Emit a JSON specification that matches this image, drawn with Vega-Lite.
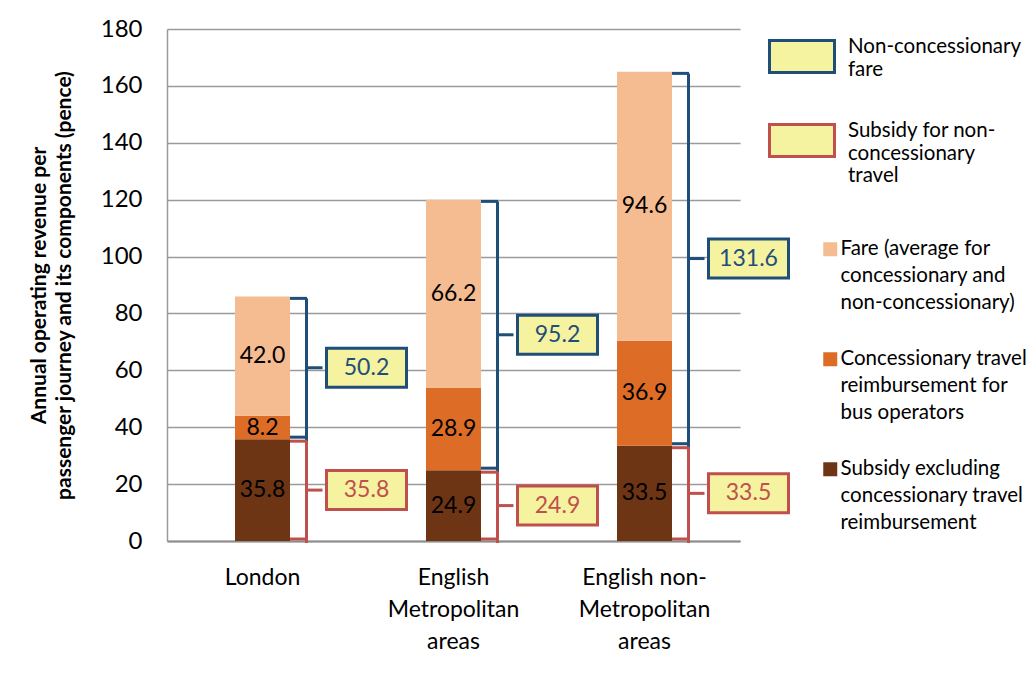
{
  "$schema": "https://vega.github.io/schema/vega-lite/v6.json",
  "width": 573,
  "height": 512,
  "autosize": {"type": "none"},
  "padding": {"left": 167, "top": 29, "right": 291, "bottom": 132},
  "background": "white",
  "config": {
    "font": "Lato",
    "view": {"stroke": null},
    "text": {"font": "Lato"}
  },
  "datasets": {
    "components": [
      {"area": "London", "component": "Subsidy excluding concessionary travel reimbursement", "tier": 1, "pence": 35.8},
      {"area": "London", "component": "Concessionary travel reimbursement for bus operators", "tier": 2, "pence": 8.2},
      {"area": "London", "component": "Fare (average for concessionary and non-concessionary)", "tier": 3, "pence": 42.0},
      {"area": "English Metropolitan areas", "component": "Subsidy excluding concessionary travel reimbursement", "tier": 1, "pence": 24.9},
      {"area": "English Metropolitan areas", "component": "Concessionary travel reimbursement for bus operators", "tier": 2, "pence": 28.9},
      {"area": "English Metropolitan areas", "component": "Fare (average for concessionary and non-concessionary)", "tier": 3, "pence": 66.2},
      {"area": "English non-Metropolitan areas", "component": "Subsidy excluding concessionary travel reimbursement", "tier": 1, "pence": 33.5},
      {"area": "English non-Metropolitan areas", "component": "Concessionary travel reimbursement for bus operators", "tier": 2, "pence": 36.9},
      {"area": "English non-Metropolitan areas", "component": "Fare (average for concessionary and non-concessionary)", "tier": 3, "pence": 94.6}
    ],
    "braces": [
      {"area": "London", "brace": "Subsidy for non-concessionary travel", "tier": 1, "pence": 35.8},
      {"area": "London", "brace": "Non-concessionary fare", "tier": 2, "pence": 50.2},
      {"area": "English Metropolitan areas", "brace": "Subsidy for non-concessionary travel", "tier": 1, "pence": 24.9},
      {"area": "English Metropolitan areas", "brace": "Non-concessionary fare", "tier": 2, "pence": 95.2},
      {"area": "English non-Metropolitan areas", "brace": "Subsidy for non-concessionary travel", "tier": 1, "pence": 33.5},
      {"area": "English non-Metropolitan areas", "brace": "Non-concessionary fare", "tier": 2, "pence": 131.6}
    ]
  },
  "encoding": {
    "x": {
      "field": "area",
      "type": "nominal",
      "title": null,
      "scale": {
        "domain": ["London", "English Metropolitan areas", "English non-Metropolitan areas"],
        "paddingInner": 0,
        "paddingOuter": 0
      },
      "axis": {
        "labelAngle": 0,
        "labelFontSize": 23,
        "labelColor": "#000000",
        "labelPadding": 25,
        "labelLineHeight": 32,
        "labelLimit": 300,
        "ticks": false,
        "domainColor": "#8c8c8c",
        "domainWidth": 2,
        "labelExpr": "datum.label === 'English Metropolitan areas' ? ['English', 'Metropolitan', 'areas'] : datum.label === 'English non-Metropolitan areas' ? ['English non-', 'Metropolitan', 'areas'] : datum.label"
      }
    }
  },
  "layer": [
    {
      "data": {"name": "braces"},
      "mark": {
        "type": "point",
        "shape": "M-1,-0.4875H1V0.4875H-1Z",
        "size": 6400,
        "filled": true,
        "fill": "#F5F2A0",
        "fillOpacity": 1,
        "strokeOpacity": 1,
        "opacity": 1,
        "strokeWidth": 3,
        "xOffset": 104
      },
      "encoding": {
        "y": {
          "field": "pence",
          "type": "quantitative",
          "stack": "zero",
          "bandPosition": 0.5,
          "title": ["Annual operating revenue per", "passenger journey and its components (pence)"],
          "scale": {"domain": [0, 180], "nice": false},
          "axis": {
            "values": [0, 20, 40, 60, 80, 100, 120, 140, 160, 180],
            "labelFontSize": 24,
            "labelColor": "#000000",
            "labelPadding": 25,
            "ticks": false,
            "domainColor": "#9a9a9a",
            "domainWidth": 1.5,
            "gridColor": "#9a9a9a",
            "gridWidth": 1.5,
            "titleFontSize": 21,
            "titleFontWeight": "bold",
            "titleColor": "#000000",
            "titleLineHeight": 25,
            "titlePadding": 26
          }
        },
        "detail": {"field": "brace", "type": "nominal"},
        "order": {"field": "tier", "type": "quantitative"},
        "stroke": {
          "field": "brace",
          "type": "nominal",
          "scale": {
            "domain": ["Non-concessionary fare", "Subsidy for non-concessionary travel"],
            "range": ["#1F4E79", "#C0504D"]
          },
          "legend": {
            "orient": "none",
            "legendX": 601,
            "legendY": -26,
            "title": null,
            "padding": 0,
            "symbolType": "M-1,0.11H1V1.09H-1Z",
            "symbolSize": 4225,
            "symbolFillColor": "#F5F2A0",
            "symbolStrokeWidth": 3,
            "symbolOpacity": 1,
            "labelFontSize": 20.5,
            "labelColor": "#000000",
            "labelOffset": 12,
            "labelLimit": 300,
            "labelBaseline": "top",
            "rowPadding": 7,
            "encode": {"labels": {"enter": {"lineHeight": {"value": 27}}, "update": {"lineHeight": {"value": 27}}}},
            "labelExpr": "datum.label === 'Non-concessionary fare' ? ['Non-concessionary', 'fare'] : ['Subsidy for non-', 'concessionary', 'travel']"
          }
        }
      }
    },
    {
      "data": {"name": "components"},
      "mark": {"type": "bar", "width": 55},
      "encoding": {
        "y": {"field": "pence", "type": "quantitative", "stack": "zero", "title": ["Annual operating revenue per", "passenger journey and its components (pence)"]},
        "color": {
          "field": "component",
          "type": "nominal",
          "scale": {
            "domain": [
              "Fare (average for concessionary and non-concessionary)",
              "Concessionary travel reimbursement for bus operators",
              "Subsidy excluding concessionary travel reimbursement"
            ],
            "range": ["#F4BC90", "#DC6C26", "#6D3514"]
          },
          "legend": {
            "orient": "none",
            "legendX": 653,
            "legendY": 200,
            "title": null,
            "padding": 0,
            "symbolType": "M-1,0.43H1V2.43H-1Z",
            "symbolSize": 196,
            "symbolStrokeWidth": 0,
            "labelFontSize": 20.5,
            "labelColor": "#000000",
            "labelOffset": 0,
            "labelLimit": 300,
            "labelBaseline": "top",
            "rowPadding": 25,
            "encode": {"labels": {"enter": {"lineHeight": {"value": 27}}, "update": {"lineHeight": {"value": 27}}}},
            "labelExpr": "datum.label === 'Fare (average for concessionary and non-concessionary)' ? ['Fare (average for', 'concessionary and', 'non-concessionary)'] : datum.label === 'Concessionary travel reimbursement for bus operators' ? ['Concessionary travel', 'reimbursement for', 'bus operators'] : ['Subsidy excluding', 'concessionary travel', 'reimbursement']"
          }
        },
        "order": {"field": "tier", "type": "quantitative"}
      }
    },
    {
      "data": {"name": "components"},
      "mark": {"type": "text", "fontSize": 23, "color": "#000000", "baseline": "middle"},
      "encoding": {
        "y": {"field": "pence", "type": "quantitative", "stack": "zero", "bandPosition": 0.5, "title": ["Annual operating revenue per", "passenger journey and its components (pence)"]},
        "detail": {"field": "component", "type": "nominal"},
        "order": {"field": "tier", "type": "quantitative"},
        "text": {"field": "pence", "type": "quantitative", "format": ".1f"}
      }
    },
    {
      "data": {"name": "braces"},
      "mark": {"type": "bar", "width": 3, "xOffset": 44, "yOffset": 2, "y2Offset": -2},
      "encoding": {
        "y": {"field": "pence", "type": "quantitative", "stack": "zero", "title": ["Annual operating revenue per", "passenger journey and its components (pence)"]},
        "detail": {"field": "brace", "type": "nominal"},
        "order": {"field": "tier", "type": "quantitative"},
        "color": {"condition": {"test": "datum.brace === 'Subsidy for non-concessionary travel'", "value": "#C0504D"}, "value": "#1F4E79"}
      }
    },
    {
      "data": {"name": "braces"},
      "mark": {"type": "tick", "size": 17, "thickness": 3, "xOffset": 36, "yOffset": 2, "opacity": 1},
      "encoding": {
        "y": {"field": "pence", "type": "quantitative", "stack": "zero", "bandPosition": 1, "title": ["Annual operating revenue per", "passenger journey and its components (pence)"]},
        "detail": {"field": "brace", "type": "nominal"},
        "order": {"field": "tier", "type": "quantitative"},
        "color": {"condition": {"test": "datum.brace === 'Subsidy for non-concessionary travel'", "value": "#C0504D"}, "value": "#1F4E79"}
      }
    },
    {
      "data": {"name": "braces"},
      "mark": {"type": "tick", "size": 17, "thickness": 3, "xOffset": 36, "yOffset": -2, "opacity": 1},
      "encoding": {
        "y": {"field": "pence", "type": "quantitative", "stack": "zero", "bandPosition": 0, "title": ["Annual operating revenue per", "passenger journey and its components (pence)"]},
        "detail": {"field": "brace", "type": "nominal"},
        "order": {"field": "tier", "type": "quantitative"},
        "color": {"condition": {"test": "datum.brace === 'Subsidy for non-concessionary travel'", "value": "#C0504D"}, "value": "#1F4E79"}
      }
    },
    {
      "data": {"name": "braces"},
      "mark": {"type": "tick", "size": 16, "thickness": 3, "xOffset": 52, "opacity": 1},
      "encoding": {
        "y": {"field": "pence", "type": "quantitative", "stack": "zero", "bandPosition": 0.5, "title": ["Annual operating revenue per", "passenger journey and its components (pence)"]},
        "detail": {"field": "brace", "type": "nominal"},
        "order": {"field": "tier", "type": "quantitative"},
        "color": {"condition": {"test": "datum.brace === 'Subsidy for non-concessionary travel'", "value": "#C0504D"}, "value": "#1F4E79"}
      }
    },
    {
      "data": {"name": "braces"},
      "mark": {"type": "text", "fontSize": 23, "xOffset": 104, "baseline": "middle"},
      "encoding": {
        "y": {"field": "pence", "type": "quantitative", "stack": "zero", "bandPosition": 0.5, "title": ["Annual operating revenue per", "passenger journey and its components (pence)"]},
        "detail": {"field": "brace", "type": "nominal"},
        "order": {"field": "tier", "type": "quantitative"},
        "text": {"field": "pence", "type": "quantitative", "format": ".1f"},
        "color": {"condition": {"test": "datum.brace === 'Subsidy for non-concessionary travel'", "value": "#C0504D"}, "value": "#1F4E79"}
      }
    }
  ]
}
